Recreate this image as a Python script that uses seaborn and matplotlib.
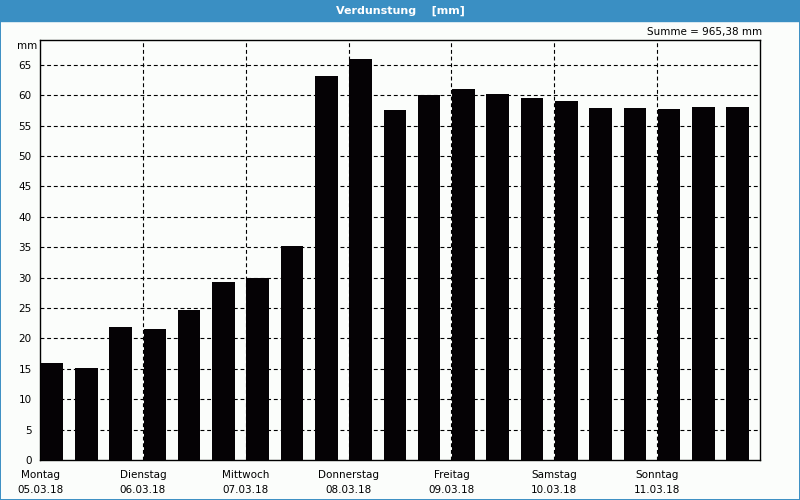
import matplotlib
matplotlib.use("Agg")
import matplotlib.pyplot as plt
import seaborn as sns
import pandas as pd
import numpy as np

days = ["Montag", "Dienstag", "Mittwoch", "Donnerstag", "Freitag", "Samstag", "Sonntag"]
dates = ["05.03.18", "06.03.18", "07.03.18", "08.03.18", "09.03.18", "10.03.18", "11.03.18"]
values = [16.0, 15.2, 21.9, 21.6, 24.7, 29.3, 30.0, 35.2,
          63.2, 66.0, 57.6, 60.0, 61.0, 60.2, 59.5, 59.0,
          57.9, 57.9, 57.7, 58.0, 58.0]
yticks = list(range(0, 70, 5))
title = "Verdunstung    [mm]"
summe = "Summe = 965,38 mm"

bg = "#FBFDFB"
blue = "#3A8FC3"

sns.set_style("white")
plt.rcParams["font.family"] = ["DejaVu Sans"]
plt.rcParams["text.color"] = "black"
plt.rcParams["xtick.color"] = "black"
plt.rcParams["ytick.color"] = "black"

fig = plt.figure(figsize=(8, 5), dpi=100, facecolor=bg)
ax = fig.add_axes([0.05, 0.08, 0.90, 0.84])
ax.set_facecolor(bg)

df = pd.DataFrame({"idx": list(range(len(values))), "val": values})
sns.barplot(data=df, x="idx", y="val", color="#050205", width=0.66,
            saturation=1, ax=ax, zorder=3, edgecolor="none")

ax.set_xlim(-0.35, len(values) - 0.35)
ax.set_ylim(0, 69.1)

# grid
for yv in yticks[1:]:
    ax.axhline(yv, color="black", lw=0.8, ls=(0, (3.5, 2.5)), zorder=1)
day_pos = [-0.35 + 3 * i for i in range(len(days))]
for xv in day_pos[1:]:
    ax.axvline(xv, color="black", lw=0.8, ls=(0, (3.5, 2.5)), zorder=1)

ax.set_yticks(yticks)
ax.set_yticklabels([str(v) for v in yticks], fontsize=7.5, color="black")
ax.set_xticks(day_pos)
ax.set_xticklabels([f"{d}\n{t}" for d, t in zip(days, dates)], fontsize=7.5,
                   linespacing=1.6, color="black")
ax.tick_params(axis="both", length=3, width=0.8, color="black", pad=3, direction="out")
ax.tick_params(axis="x", pad=4)
ax.set_xlabel("")
ax.set_ylabel("")
for s in ax.spines.values():
    s.set_color("black")
    s.set_linewidth(1.0)
    s.set_visible(True)

fig.text(37 / 800, 1 - 46 / 500, "mm", ha="right", va="center", fontsize=7.5, color="black")
fig.text(762 / 800, 1 - 32 / 500, summe, ha="right", va="center", fontsize=7.5, color="black")

# title bar and frame
fig.patches.append(plt.Rectangle((0, 1 - 21 / 500), 1, 21 / 500, transform=fig.transFigure,
                                 color=blue, zorder=0))
fig.text(0.5, 1 - 10.5 / 500, title, ha="center", va="center", color="white",
         fontsize=8, fontweight="bold")
fig.patches.append(plt.Rectangle((0, 0), 1, 1, transform=fig.transFigure, fill=False,
                                 edgecolor=blue, lw=1.4, zorder=0))

fig.savefig("out.png", dpi=100, facecolor=bg)
